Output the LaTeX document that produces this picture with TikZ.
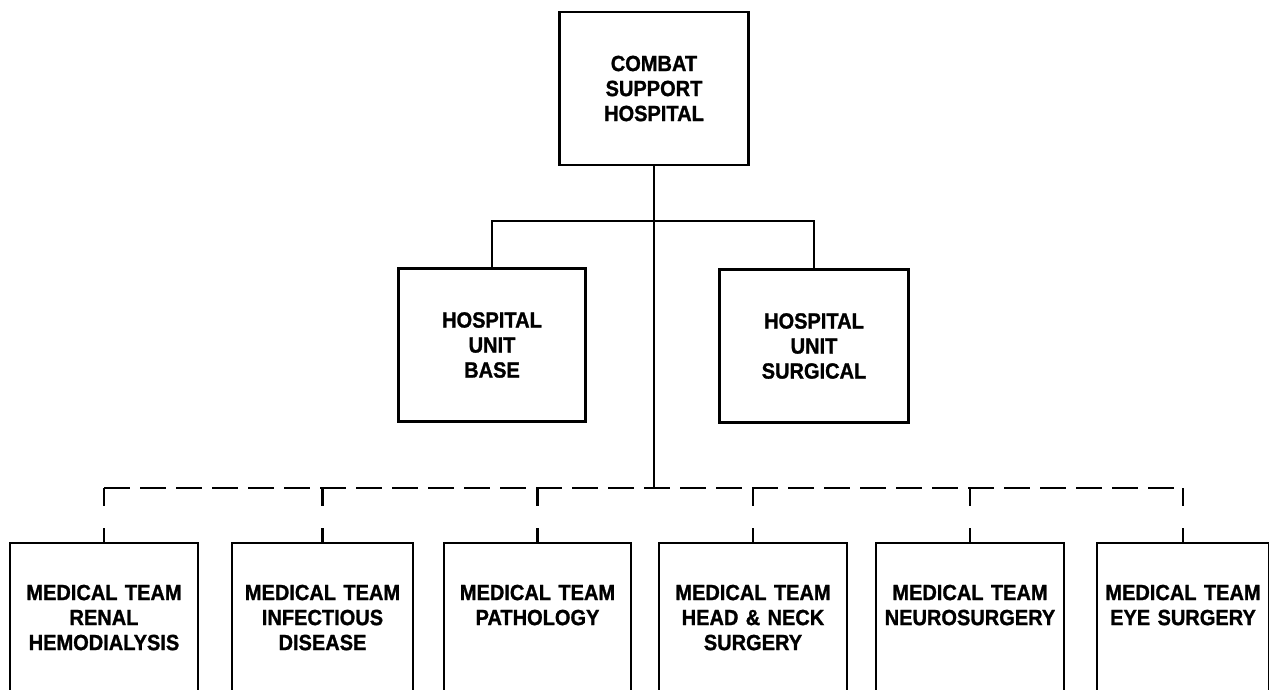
\documentclass[tikz,border=0pt]{standalone}
\usepackage{fontspec}
\setmainfont{Liberation Sans}[FakeStretch=0.91, BoldFeatures={FakeBold=1.2}]
\begin{document}
\begin{tikzpicture}
        [
          x=1pt, y=-1pt,
          every node/.style={align=center, font=\bfseries\fontsize{22}{25}\selectfont},
          unitbox/.style={draw, line width=2.2pt, inner sep=0pt, minimum height=153pt},
          teambox/.style={draw, line width=2.2pt, inner sep=0pt, anchor=north,
            text width=#1, text height=57pt, text depth=140pt},
          unitlink/.style={draw, line width=2.2pt},
          teamline/.style={draw, line width=2.2pt, dash pattern=on 26pt off 10pt},
          teamdrop/.style={draw, line width=2.2pt, dash pattern=on 18pt off 22pt}
        ]
        \useasboundingbox (0,0) rectangle (1269,689);

        % headquarters and hospital units
        \node[unitbox, minimum width=189pt] (csh) at (654,88.5) {COMBAT\\SUPPORT\\HOSPITAL};
        \node[unitbox, minimum width=187pt] (base) at (492,345) {HOSPITAL\\UNIT\\BASE};
        \node[unitbox, minimum width=189pt] (surg) at (814,346) {HOSPITAL\\UNIT\\SURGICAL};

        \coordinate (split) at (654,221);
        \coordinate (bus) at (654,488);

        \path[unitlink] (base.north) |- (split) -| (surg.north);
        \path[unitlink] (csh.south) -- (bus);

        % medical teams
        \foreach \i/\x/\w/\name in {
            1/104/188pt/{MEDICAL TEAM\\RENAL\\HEMODIALYSIS},
            2/322.5/181pt/{MEDICAL TEAM\\INFECTIOUS\\DISEASE},
            3/537.5/187pt/{MEDICAL TEAM\\PATHOLOGY},
            4/753/188pt/{MEDICAL TEAM\\HEAD \& NECK\\SURGERY},
            5/970/188pt/{MEDICAL TEAM\\NEUROSURGERY},
            6/1183/172pt/{MEDICAL TEAM\\EYE SURGERY}}
          \node[teambox=\w] (team\i) at (\x,542) {\name};

        \path[teamline] (team1.north |- bus) -- (team6.north |- bus);
        \foreach \i in {1,...,6}
          \path[teamdrop] (team\i.north |- bus) -- (team\i.north);
\end{tikzpicture}
\end{document}
